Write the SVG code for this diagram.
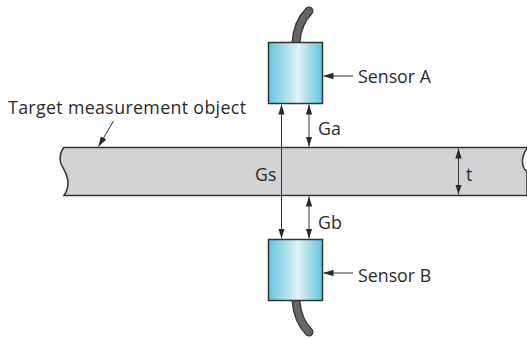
<svg xmlns="http://www.w3.org/2000/svg" width="527" height="339" viewBox="0 0 527 339">
<style>
text{font-family:"Open Sans","Noto Sans",sans-serif;font-size:17.800px;fill:#2b2a29}
.ln{stroke:#333;stroke-width:1;fill:none}
.s{fill:url(#g);stroke:#333;stroke-width:1.5}
.c{fill:none;stroke:#333;stroke-width:9;stroke-linecap:round}
.c2{fill:none;stroke:#666;stroke-width:6.500;stroke-linecap:round}
</style>
<defs>
<linearGradient id="g" x1="0" x2="1" y1="0" y2="0">
<stop offset="0" stop-color="#62c6de"/><stop offset=".3" stop-color="#a5dde9"/><stop offset=".55" stop-color="#e2f4f8"/><stop offset=".75" stop-color="#a5dde9"/><stop offset="1" stop-color="#62c6de"/>
</linearGradient>
<marker id="a" markerUnits="userSpaceOnUse" markerWidth="10" markerHeight="10" viewBox="0 0 10 10" refX="10" refY="5" orient="auto-start-reverse"><path d="M0 1.800L10 5L0 8.200Z" fill="#2b2a29"/></marker>
</defs>
<g id="target">
<path d="M527 147.500H63.500C60 153 59 159 61.500 165C64 170 68 175 68 183C68 188 66.500 192 64 195.500H527V172C523 168 521.500 163 523 157C524 153 525.500 150 527 149Z" fill="#d1d3d4" stroke="#333" stroke-width="1.500"/>
<text x="8" y="114" textLength="238">Target measurement object</text>
</g>
<g id="sensor-a">
<path class="c" d="M296 42C297 29 302 18 309 11"/><path class="c2" d="M296 42C297 29 302 18 309 11"/>
<rect class="s" x="268.500" y="42.500" width="54" height="61"/>
<text x="358" y="83">Sensor A</text>
</g>
<g id="sensor-b">
<path class="c" d="M296 301C297 314 302 325 309 332"/><path class="c2" d="M296 301C297 314 302 325 309 332"/>
<rect class="s" x="268.500" y="239.500" width="54" height="61"/>
<text x="358" y="282">Sensor B</text>
</g>
<g id="labels">
<text x="318" y="135">Ga</text>
<text x="255" y="181">Gs</text>
<text x="318" y="229">Gb</text>
<text x="466" y="181">t</text>
</g>
<g id="connectors">
<path class="ln" d="M353 76H323.500" marker-end="url(#a)"/>
<path class="ln" d="M353 273H323.500" marker-end="url(#a)"/>
<path class="ln" d="M281.500 104.500V238.500" marker-start="url(#a)" marker-end="url(#a)"/>
<path class="ln" d="M309 104.500V146.500" marker-start="url(#a)" marker-end="url(#a)"/>
<path class="ln" d="M309 196.500V238.500" marker-start="url(#a)" marker-end="url(#a)"/>
<path class="ln" d="M458.500 148.500V194.500" marker-start="url(#a)" marker-end="url(#a)"/>
<path class="ln" d="M113.500 121L98.500 146.500" marker-end="url(#a)"/>
</g>
</svg>
